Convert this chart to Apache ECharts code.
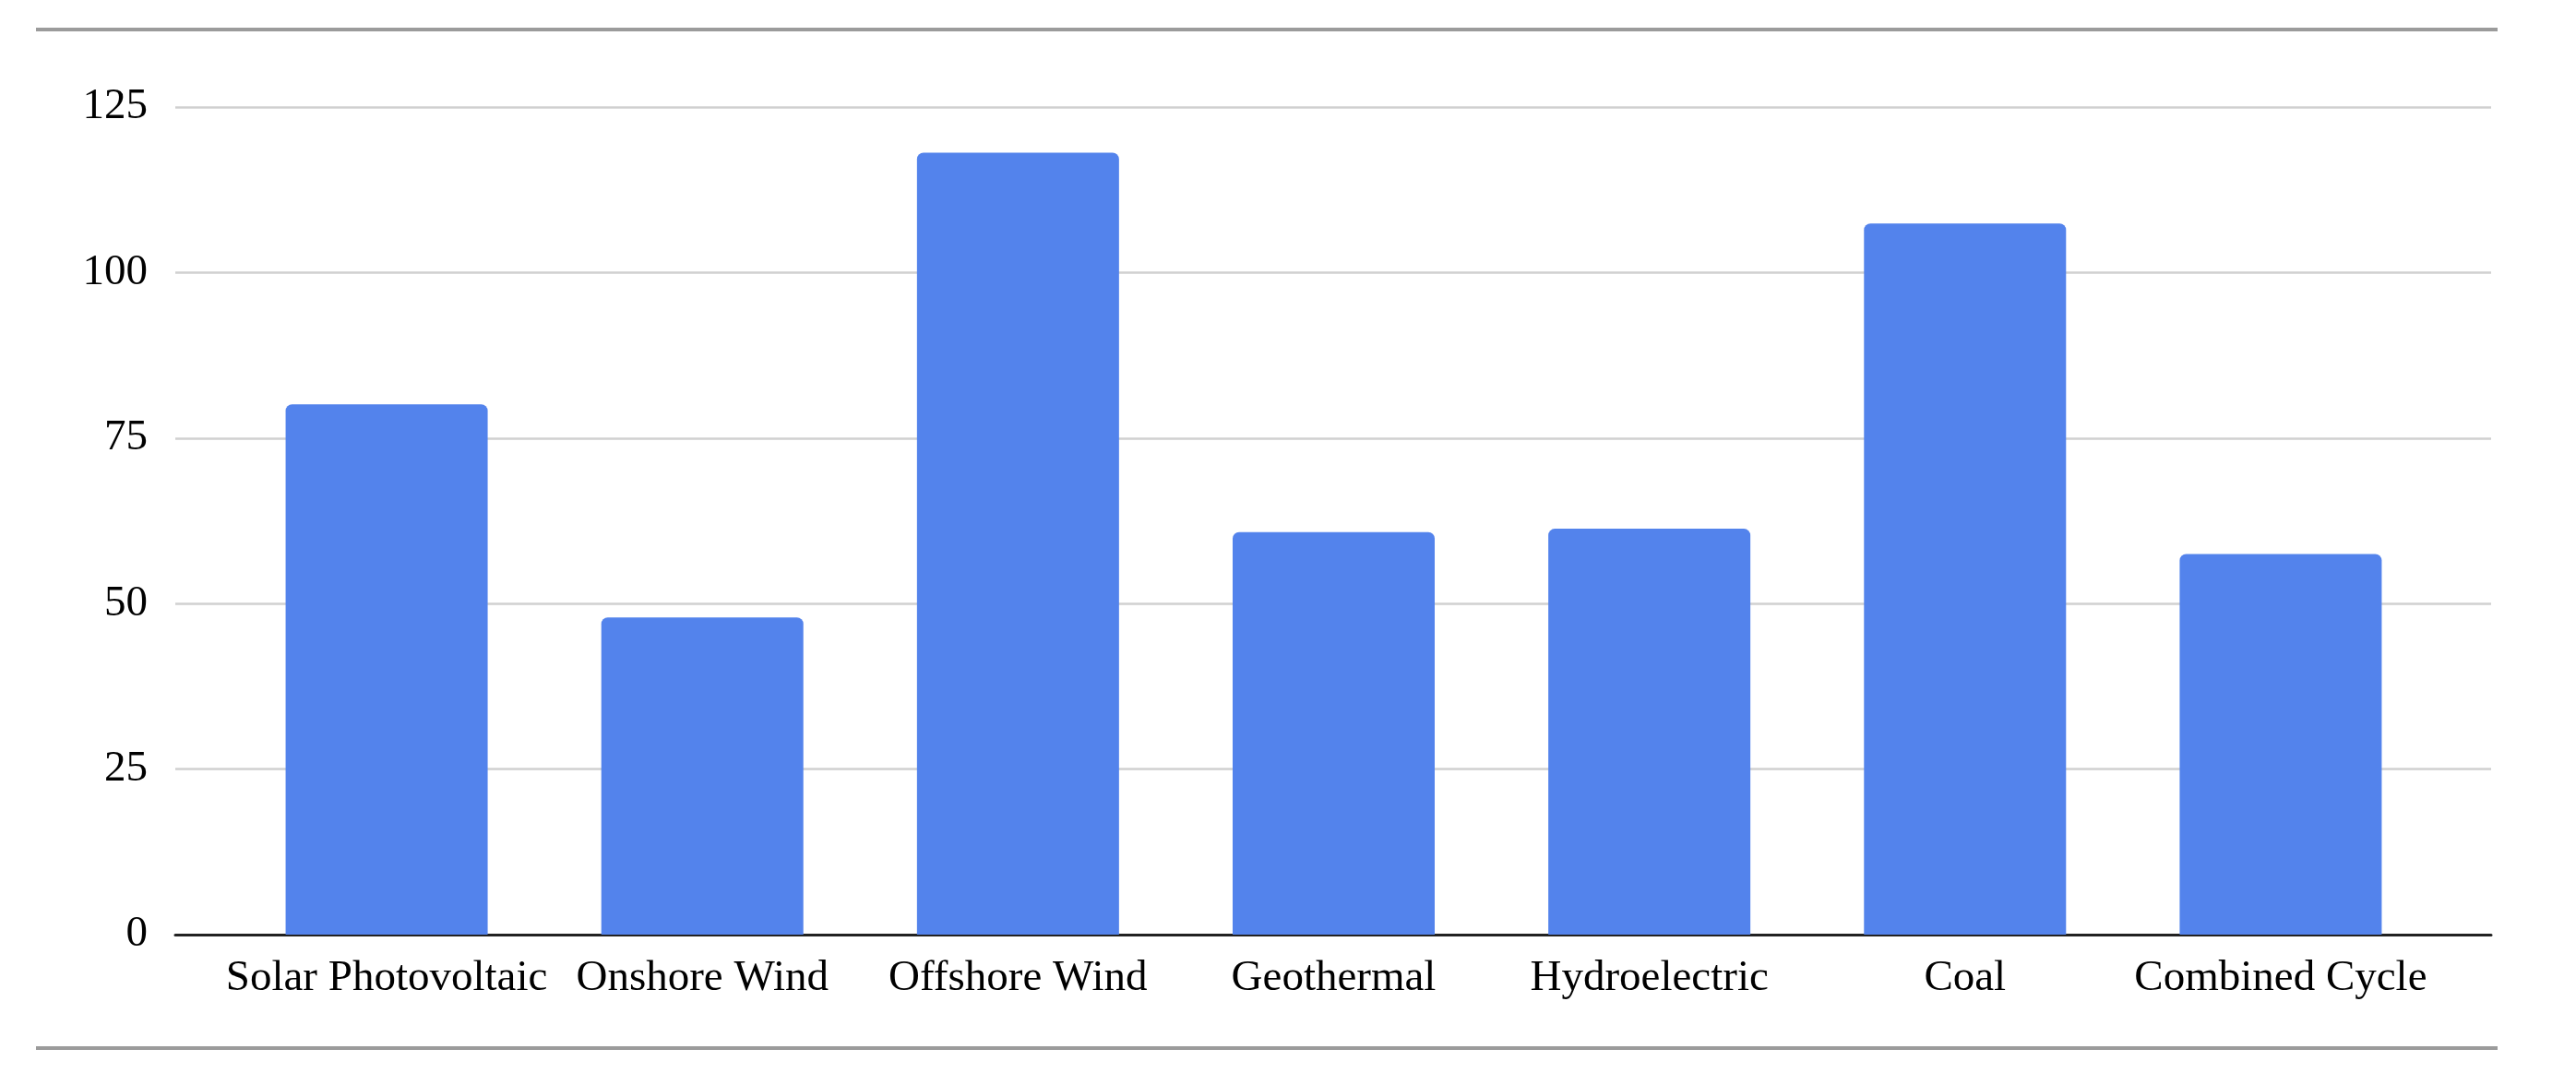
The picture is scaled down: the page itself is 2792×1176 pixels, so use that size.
<!DOCTYPE html>
<html><head><meta charset="utf-8">
<script src="https://cdn.jsdelivr.net/npm/echarts@6/dist/echarts.min.js"></script>
<style>html,body{margin:0;padding:0;background:#fff}#c{width:2792px;height:1176px}</style>
</head><body><div id="c"></div>
<script>
const categories = ['Solar Photovoltaic','Onshore Wind','Offshore Wind','Geothermal','Hydroelectric','Coal','Combined Cycle'];
const values = [80.1, 47.9, 118.1, 60.8, 61.3, 107.4, 57.5];
const yMin = 0, yMax = 125, yStep = 25;

const FONT = '"Liberation Serif", "Times New Roman", serif';
const chart = echarts.init(document.getElementById('c'), null, {renderer: 'canvas'});
chart.setOption({
  backgroundColor: '#ffffff',
  animation: false,
  grid: [
    {left: 190, right: 92, top: 116, bottom: 163},
    {left: 248, right: 149, top: 116, bottom: 163}
  ],
  xAxis: [
    {gridIndex: 0, type: 'category', data: categories,
     axisLine: {show: true, lineStyle: {color: '#222', width: 3}},
     axisTick: {show: false}, axisLabel: {show: false}, splitLine: {show: false}},
    {gridIndex: 1, type: 'category', data: categories,
     axisLine: {show: false}, axisTick: {show: false},
     axisLabel: {show: true, color: '#000', fontFamily: FONT, fontSize: 47, margin: 24, interval: 0}}
  ],
  yAxis: [
    {gridIndex: 0, type: 'value', min: yMin, max: yMax, interval: yStep,
     axisLine: {show: false}, axisTick: {show: false},
     axisLabel: {color: '#000', fontFamily: FONT, fontSize: 47, margin: 30},
     splitLine: {show: true, lineStyle: {color: '#d0d0d0', width: 2.5}}},
    {gridIndex: 1, type: 'value', min: yMin, max: yMax, interval: yStep, show: false,
     splitLine: {show: false}}
  ],
  series: [{
    type: 'bar', xAxisIndex: 1, yAxisIndex: 1, data: values,
    barWidth: 219,
    itemStyle: {color: '#5383ec', borderRadius: [7, 7, 0, 0]},
    z: 3
  }],
  graphic: [
    {type: 'line', shape: {x1: 39, y1: 32, x2: 2707, y2: 32}, style: {stroke: '#9b9b9b', lineWidth: 4}},
    {type: 'line', shape: {x1: 39, y1: 1136, x2: 2707, y2: 1136}, style: {stroke: '#9b9b9b', lineWidth: 4}}
  ]
});
</script></body></html>
